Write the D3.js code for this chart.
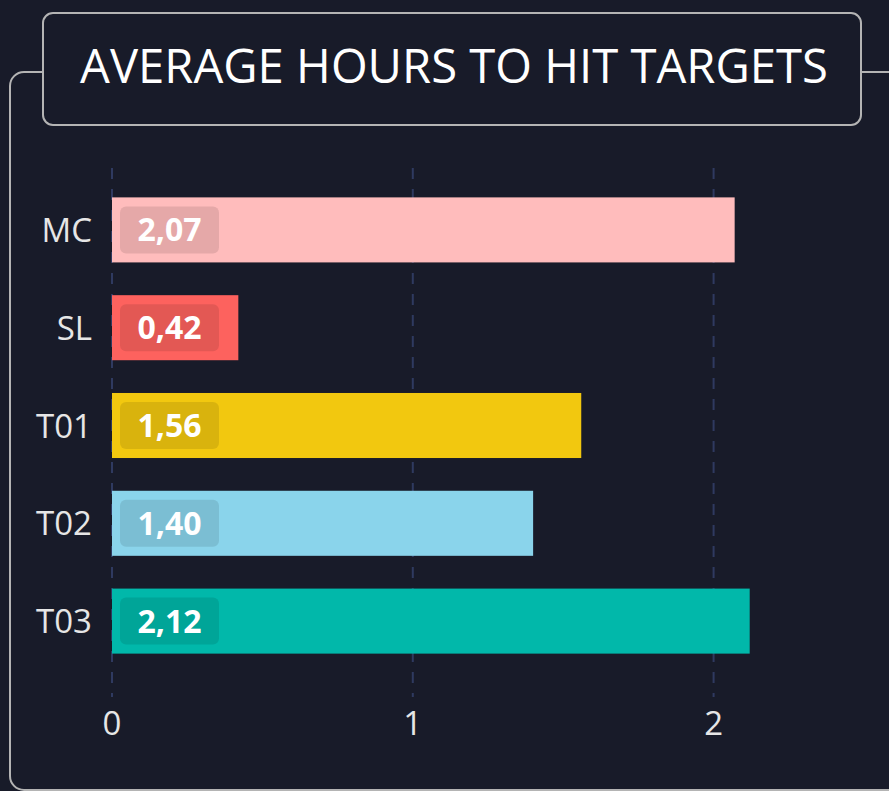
<!DOCTYPE html>
<html>
<head>
<meta charset="utf-8">
<script src="https://cdn.jsdelivr.net/npm/d3@7"></script>
<style>
  html, body { margin: 0; padding: 0; background: #181b29; }
  svg { display: block; font-family: "Open Sans", sans-serif; }
</style>
</head>
<body>
<svg width="889" height="791"></svg>
<script>
const categories = ["MC", "SL", "T01", "T02", "T03"];
const values = [2.07, 0.42, 1.56, 1.40, 2.12];
const colors = ["#ffbcbc", "#fd625e", "#f2c80f", "#8ad4eb", "#01b8aa"];
const ticks = [0, 1, 2];
const title = "AVERAGE HOURS TO HIT TARGETS";

const svg = d3.select("svg");

// outer frame + title box
svg.append("rect")
  .attr("x", 10).attr("y", 72)
  .attr("width", 900).attr("height", 718)
  .attr("rx", 14)
  .attr("fill", "none")
  .attr("stroke", "#b4b4b4")
  .attr("stroke-width", 2);

svg.append("rect")
  .attr("x", 43).attr("y", 13)
  .attr("width", 818).attr("height", 112)
  .attr("rx", 10)
  .attr("fill", "#181b29")
  .attr("stroke", "#b4b4b4")
  .attr("stroke-width", 2);

const t = svg.append("text")
  .attr("x", 454).attr("y", 83)
  .attr("text-anchor", "middle")
  .attr("fill", "#ffffff")
  .attr("font-size", 49)
  .text(title);
const tw = t.node().getComputedTextLength();
t.attr("font-size", 49 * 748 / tw);

const x = d3.scaleLinear().domain([0, 2.5]).range([112, 864]);
const y = d3.scaleBand().domain(categories).range([181, 670]).paddingInner(0.335).paddingOuter(0.1675);

// grid
svg.append("g").selectAll("line")
  .data(ticks)
  .enter()
  .append("line")
  .attr("x1", d => x(d)).attr("x2", d => x(d))
  .attr("y1", 168).attr("y2", 697)
  .attr("stroke", "#2f3a60")
  .attr("stroke-width", 2)
  .attr("stroke-dasharray", "11,10");

// x tick labels
svg.append("g").selectAll("text")
  .data(ticks)
  .enter()
  .append("text")
  .attr("x", d => x(d)).attr("y", 735)
  .attr("text-anchor", "middle")
  .attr("fill", "#e6e6e6")
  .attr("font-size", 33)
  .text(d => d);

// y labels
svg.append("g").selectAll("text")
  .data(categories)
  .enter()
  .append("text")
  .attr("x", 92)
  .attr("y", d => y(d) + y.bandwidth() / 2 + 12)
  .attr("text-anchor", "end")
  .attr("fill", "#e6e6e6")
  .attr("font-size", 33)
  .text(d => d);

const rows = categories.map((c, i) => ({name: c, value: values[i], color: colors[i]}));

const bars = svg.append("g").selectAll(".bar")
  .data(rows)
  .enter()
  .append("g")
  .classed("bar", true);

bars.append("rect")
  .attr("x", x(0))
  .attr("y", d => y(d.name))
  .attr("width", d => x(d.value) - x(0))
  .attr("height", y.bandwidth())
  .attr("fill", d => d.color);

bars.append("rect")
  .attr("x", x(0) + 8)
  .attr("y", d => y(d.name) + y.bandwidth() / 2 - 23.5)
  .attr("width", 99).attr("height", 47)
  .attr("rx", 6)
  .attr("fill", "#000")
  .attr("fill-opacity", 0.1);

const fmt = d3.formatLocale({decimal: ",", thousands: ".", grouping: [3], currency: ["", ""]}).format(".2f");

bars.append("text")
  .attr("x", x(0) + 57.5)
  .attr("y", d => y(d.name) + y.bandwidth() / 2 + 11.5)
  .attr("text-anchor", "middle")
  .attr("fill", "#ffffff")
  .attr("font-weight", "bold")
  .attr("font-size", 32)
  .text(d => fmt(d.value));
</script>
</body>
</html>
